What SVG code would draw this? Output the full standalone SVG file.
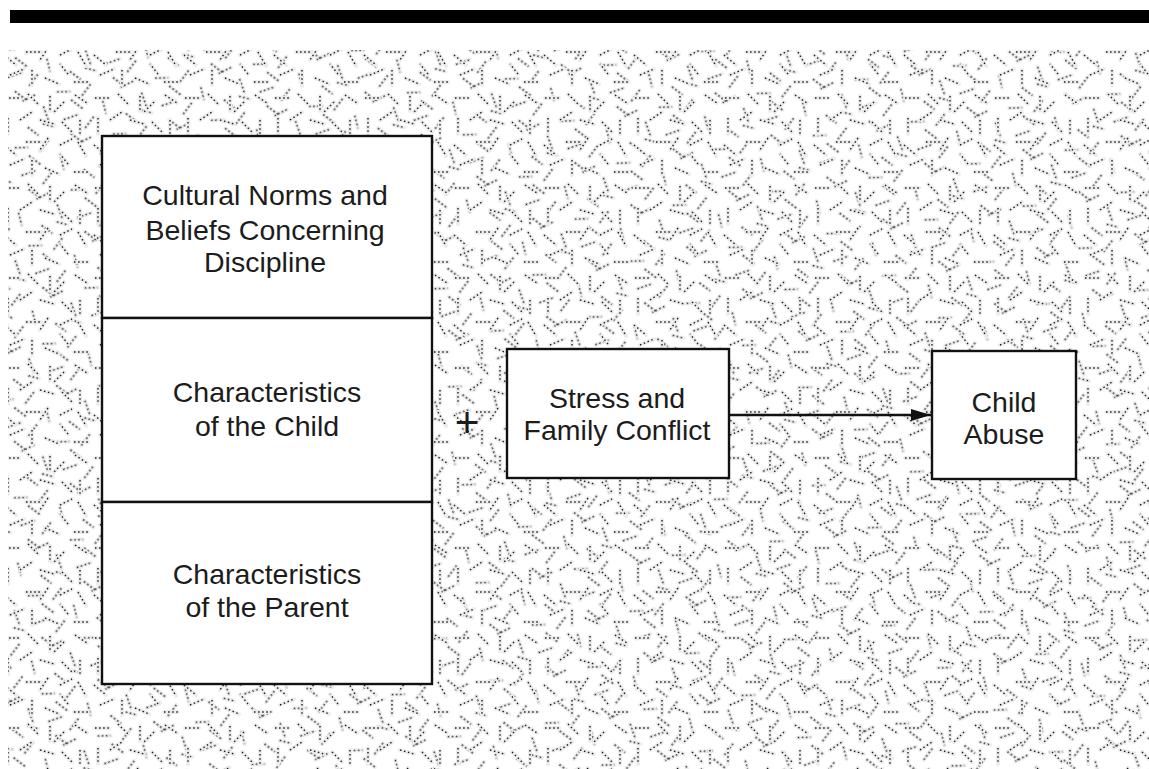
<svg xmlns="http://www.w3.org/2000/svg" width="1149" height="769" viewBox="0 0 1149 769">
<style>
.box{fill:#fff;stroke:#111;stroke-width:2.4}
.lbl{font-family:"Liberation Sans",Arial,sans-serif;font-size:28.5px;fill:#1c1c1c;text-anchor:middle}
.halo{fill:none;stroke:#ececec;stroke-width:4;stroke-linecap:round}
.dots{fill:none;stroke:#1e1e1e;stroke-width:1.4;stroke-dasharray:1.5 2.6}
.conn{stroke:#111;stroke-width:2.4;fill:none}
</style>
<defs>
<path id="sa" d="M5 8 l14 0 M28 4 l10 10 M50 6 l0 15 M64 12 l-10 10 M75 5 l12 8 M8 28 l0 16 M20 30 l12 -8 M40 30 l14 4 M62 32 l10 10 M80 30 l0 14 M4 55 l12 10 M26 52 l15 0 M48 48 l-8 12 M60 55 l12 -6 M78 52 l8 14 M10 75 l14 -6 M32 70 l0 15 M45 78 l14 6 M68 74 l-8 -10 M74 82 l14 0"/>
<path id="sb" d="M6 6 l13 0 M30 4 l0 14 M50 10 l10 8 M8 30 l10 -8 M24 28 l14 0 M52 28 l0 14 M6 50 l12 8 M30 48 l8 -12 M44 55 l14 0 M62 46 l-6 12 M16 64 l10 -4"/>
<pattern id="pa" width="90" height="90" patternUnits="userSpaceOnUse">
<use href="#sa" class="halo"/><use href="#sa" class="dots"/>
</pattern>
<pattern id="pb" width="70" height="70" patternUnits="userSpaceOnUse" patternTransform="translate(13 21) rotate(37)">
<use href="#sb" class="halo"/><use href="#sb" class="dots"/>
</pattern>
<marker id="ah" markerUnits="userSpaceOnUse" markerWidth="22" markerHeight="14" refX="20" refY="7" orient="auto">
<path d="M0 1 L20 7 L0 13 Z" fill="#111"/>
</marker>
</defs>
<rect width="1149" height="769" fill="#fff"/>
<rect x="10" y="10" width="1139" height="13" fill="#000"/>
<g id="texture">
<rect x="8" y="50" width="1141" height="719" fill="url(#pb)"/>
<rect x="8" y="50" width="1141" height="719" fill="url(#pa)"/>
</g>
<g id="connectors">
<line class="conn" x1="729" y1="415" x2="931" y2="415" marker-end="url(#ah)"/>
</g>
<g id="cultural-norms">
<rect class="box" x="102" y="136" width="330" height="182"/>
<text class="lbl" x="265" y="205">Cultural Norms and</text>
<text class="lbl" x="265" y="240">Beliefs Concerning</text>
<text class="lbl" x="265" y="272">Discipline</text>
</g>
<g id="child-characteristics">
<rect class="box" x="102" y="318" width="330" height="184"/>
<text class="lbl" x="267" y="402">Characteristics</text>
<text class="lbl" x="267" y="436">of the Child</text>
</g>
<g id="parent-characteristics">
<rect class="box" x="102" y="502" width="330" height="182"/>
<text class="lbl" x="267" y="584">Characteristics</text>
<text class="lbl" x="267" y="617">of the Parent</text>
</g>
<g id="plus">
<text x="467" y="437" style="font-family:'Liberation Sans',Arial,sans-serif;font-size:42px;fill:#1c1c1c;text-anchor:middle">+</text>
</g>
<g id="stress">
<rect class="box" x="507" y="349" width="222" height="129"/>
<text class="lbl" x="617" y="408">Stress and</text>
<text class="lbl" x="617" y="440">Family Conflict</text>
</g>
<g id="child-abuse">
<rect class="box" x="932" y="351" width="144" height="128"/>
<text class="lbl" x="1004" y="412">Child</text>
<text class="lbl" x="1004" y="444">Abuse</text>
</g>
</svg>
